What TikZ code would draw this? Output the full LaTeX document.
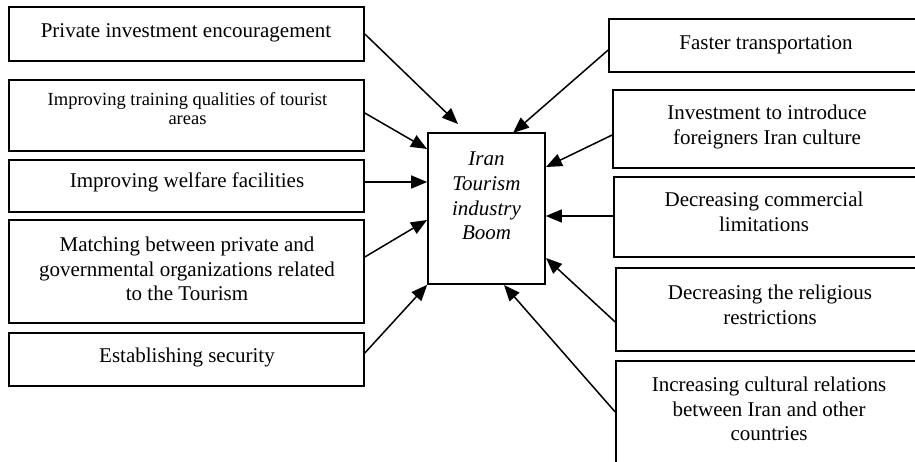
\documentclass[tikz,border=0pt]{standalone}
\usepackage{fontspec}
\setmainfont{Liberation Serif}
\usetikzlibrary{arrows.meta}
\begin{document}
\begin{tikzpicture}[x=1pt,y=-1pt,
  box/.style={draw, line width=1.6pt, inner sep=0pt},
  txt/.style={align=center, font=\fontsize{21}{24.7}\selectfont, inner sep=0pt},
  smalltxt/.style={align=center, font=\fontsize{18.5}{19.5}\selectfont, inner sep=0pt},
  arr/.style={line width=1.5pt, -{Triangle[length=16pt,width=13pt]}}]
\clip (0,0) rectangle (915,462);
% left boxes
\node[box, minimum width=355pt, minimum height=54pt] (l1) at (186.5,34) {};
\node[txt] (l1t) at (186,33) {Private investment encouragement};
\node[box, minimum width=355pt, minimum height=71pt] (l2) at (186.5,115.5) {};
\node[smalltxt] (l2t) at (187.5,108.5) {Improving training qualities of tourist\\areas};
\node[box, minimum width=355pt, minimum height=52pt] (l3) at (186.5,186) {};
\node[txt] (l3t) at (187,182) {Improving welfare facilities};
\node[box, minimum width=355pt, minimum height=103pt] (l4) at (186.5,271.5) {};
\node[txt] (l4t) at (187,269) {Matching between private and\\governmental organizations related\\to the Tourism};
\node[box, minimum width=355pt, minimum height=53pt] (l5) at (186.5,359.5) {};
\node[txt] (l5t) at (187,357) {Establishing security};
% centre
\node[box, minimum width=117pt, minimum height=151pt] (c) at (486.5,208.5) {};
\node[txt, font=\fontsize{21}{24.7}\selectfont\itshape] (ct) at (486.5,196) {Iran\\Tourism\\industry\\Boom};
% right boxes
\node[box, minimum width=316pt, minimum height=53pt] (r1) at (767,45.5) {};
\node[txt] (r1t) at (766,45) {Faster transportation};
\node[box, minimum width=312pt, minimum height=78pt] (r2) at (769,129) {};
\node[txt] (r2t) at (767,127) {Investment to introduce\\foreigners Iran culture};
\node[box, minimum width=311pt, minimum height=80pt] (r3) at (769.5,217) {};
\node[txt] (r3t) at (764,212) {Decreasing commercial\\limitations};
\node[box, minimum width=309pt, minimum height=83pt] (r4) at (770.5,309.5) {};
\node[txt] (r4t) at (770,304.5) {Decreasing the religious\\restrictions};
\node[box, minimum width=309pt, minimum height=119pt] (r5) at (770.5,420.5) {};
\node[txt] (r5t) at (769,409) {Increasing cultural relations\\between Iran and other\\countries};
% arrow tips
\coordinate (t1) at (458,124);
\coordinate (t2) at (427,149);
\coordinate (t4) at (427,220);
\coordinate (u1) at (513,133);
\coordinate (u2) at (546,167);
\coordinate (u4) at (546,258);
\coordinate (u5) at (504,285);
% arrows
\draw[arr] (l1.east) -- (t1);
\draw[arr] ([yshift=2.5pt]l2.east) -- (t2);
\draw[arr] ([yshift=4pt]l3.east) -- ([yshift=4pt]l3.east -| c.west);
\draw[arr] ([yshift=14.5pt]l4.east) -- (t4);
\draw[arr] ([yshift=6.5pt]l5.east) -- (c.south west);
\draw[arr] ([yshift=-4.5pt]r1.west) -- (u1);
\draw[arr] ([yshift=-6pt]r2.west) -- (u2);
\draw[arr] ([yshift=1pt]r3.west) -- ([yshift=1pt]r3.west -| c.east);
\draw[arr] ([yshift=-12.5pt]r4.west) -- (u4);
\draw[arr] ([yshift=8.5pt]r5.west) -- (u5);
\end{tikzpicture}
\end{document}
